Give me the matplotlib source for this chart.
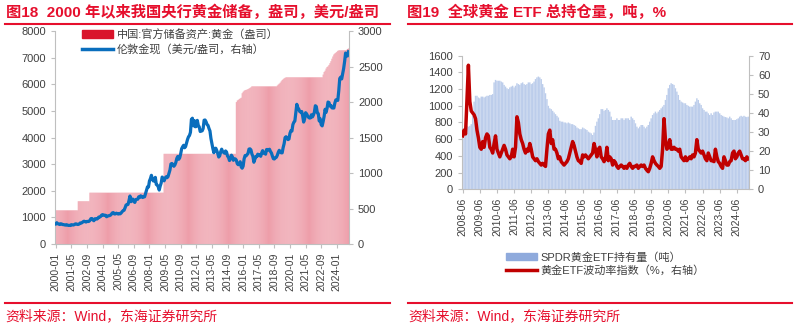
import matplotlib
matplotlib.use("Agg")
import matplotlib.pyplot as plt
import matplotlib.patches as mpatches
import matplotlib.lines as mlines
import pandas as pd

plt.rcParams['font.family'] = ['Liberation Sans', 'Noto Sans CJK SC']

RED = '#E60F2D'
GREY = '#BFBFBF'
TXT = '#404040'

# ---- figure 18 data: China official gold reserves (10k oz) and London gold (USD/oz), monthly
gold_months = pd.date_range('2000-01', '2025-01', freq='MS')
gold_price = [
    284, 300, 286, 280, 275, 285, 282, 274, 273, 270, 266, 272,
    266, 262, 263, 261, 272, 270, 268, 273, 283, 283, 276, 276,
    282, 296, 294, 302, 314, 321, 314, 310, 319, 317, 319, 333,
    357, 359, 340, 328, 355, 356, 351, 360, 379, 379, 389, 407,
    414, 405, 406, 404, 384, 392, 398, 400, 406, 420, 439, 442,
    424, 423, 434, 429, 422, 431, 425, 438, 456, 470, 476, 510,
    549, 555, 557, 610, 676, 596, 633, 632, 598, 586, 627, 629,
    631, 665, 655, 679, 667, 655, 665, 665, 712, 754, 806, 803,
    889, 922, 968, 909, 888, 889, 939, 839, 829, 806, 760, 816,
    858, 943, 924, 890, 928, 946, 934, 949, 996, 1043, 1127, 1135,
    1118, 1095, 1113, 1148, 1205, 1233, 1193, 1215, 1271, 1343, 1370, 1391,
    1356, 1372, 1424, 1473, 1510, 1529, 1573, 1756, 1772, 1665, 1739, 1652,
    1656, 1742, 1673, 1650, 1585, 1596, 1594, 1626, 1744, 1747, 1722, 1684,
    1671, 1627, 1593, 1487, 1414, 1343, 1286, 1347, 1349, 1316, 1275, 1225,
    1244, 1300, 1336, 1299, 1288, 1279, 1311, 1296, 1239, 1222, 1176, 1201,
    1251, 1227, 1179, 1198, 1199, 1182, 1131, 1117, 1125, 1159, 1086, 1068,
    1097, 1200, 1246, 1242, 1260, 1276, 1337, 1341, 1326, 1267, 1236, 1152,
    1192, 1234, 1231, 1266, 1246, 1260, 1236, 1283, 1315, 1280, 1283, 1265,
    1331, 1331, 1325, 1335, 1303, 1282, 1238, 1202, 1198, 1215, 1221, 1250,
    1291, 1320, 1301, 1285, 1284, 1359, 1413, 1500, 1511, 1495, 1471, 1480,
    1560, 1597, 1591, 1683, 1716, 1732, 1846, 1968, 1922, 1901, 1866, 1858,
    1867, 1808, 1718, 1760, 1850, 1834, 1807, 1785, 1775, 1777, 1821, 1790,
    1817, 1856, 1948, 1937, 1849, 1837, 1733, 1764, 1681, 1664, 1726, 1798,
    1898, 1855, 1912, 2000, 1992, 1943, 1951, 1918, 1916, 1916, 1986, 2030,
    2034, 2023, 2158, 2331, 2351, 2326, 2398, 2472, 2571, 2690, 2651, 2649,
    2709,
]
# reserves only change on these months (stays flat in between)
reserve_change_dates = [
    '2000-01', '2001-12', '2002-12', '2009-04',
    '2015-06', '2015-07', '2015-08', '2015-09', '2015-10', '2015-11', '2015-12',
    '2016-01', '2016-02', '2016-03', '2016-04', '2016-05', '2016-06', '2016-07',
    '2016-08', '2016-09', '2016-10',
    '2018-12', '2019-01', '2019-02', '2019-03', '2019-04', '2019-05', '2019-06',
    '2019-07', '2019-08', '2019-09',
    '2022-11', '2022-12', '2023-01', '2023-02', '2023-03', '2023-04', '2023-05',
    '2023-06', '2023-07', '2023-08', '2023-09', '2023-10', '2023-11', '2023-12',
    '2024-01', '2024-02', '2024-03', '2024-04', '2024-11', '2024-12', '2025-01',
]
reserve_change_values = [
    1267, 1608, 1929, 3389,
    5332, 5393, 5416, 5449, 5473, 5496, 5666,
    5719, 5758, 5782, 5790, 5802, 5822, 5841,
    5865, 5888, 5924,
    5956, 5994, 6026, 6062, 6113, 6161, 6194,
    6226, 6245, 6264,
    6367, 6464, 6512, 6592, 6650, 6676, 6727,
    6795, 6869, 6962, 7046, 7120, 7158, 7187,
    7219, 7258, 7274, 7280, 7296, 7329, 7345,
]

# ---- figure 19 data: SPDR holdings (t) and gold ETF volatility index (%), monthly
etf_months = pd.date_range('2008-06', '2025-02', freq='MS')
spdr_tonnes = [
    600, 620, 680, 760, 750, 760, 780, 880, 1050, 1120,
    1120, 1100, 1090, 1110, 1110, 1100, 1110, 1120, 1120, 1130,
    1130, 1140, 1280, 1310, 1300, 1300, 1300, 1290, 1280, 1250,
    1230, 1210, 1200, 1220, 1230, 1240, 1220, 1240, 1270, 1260,
    1250, 1270, 1280, 1260, 1250, 1260, 1280, 1280, 1260, 1270,
    1290, 1320, 1340, 1350, 1340, 1320, 1260, 1220, 1150, 1080,
    1000, 970, 960, 940, 920, 900, 880, 860, 820, 810,
    810, 800, 800, 790, 800, 790, 780, 780, 770, 760,
    740, 730, 720, 720, 740, 730, 720, 710, 690, 680,
    670, 650, 680, 760, 810, 850, 900, 960, 960, 940,
    950, 970, 950, 930, 870, 830, 830, 830, 850, 830,
    830, 850, 850, 830, 850, 850, 850, 830, 870, 850,
    830, 790, 750, 730, 750, 770, 770, 750, 730, 750,
    770, 810, 850, 890, 910, 930, 910, 930, 950, 970,
    990, 1010, 1070, 1130, 1210, 1250, 1270, 1260, 1250, 1210,
    1170, 1130, 1070, 1050, 1040, 1030, 1030, 1010, 1000, 990,
    990, 990, 1010, 1050, 1090, 1070, 1030, 1010, 970, 950,
    930, 930, 910, 890, 910, 890, 920, 930, 930, 930,
    910, 890, 880, 870, 865, 860, 850, 870, 850, 830,
    830, 830, 840, 850, 870, 880, 870, 880, 870, 865, 870,
]
gvz_index = [
    28, 31, 29, 47, 65, 46, 41, 40, 39, 37,
    31, 27, 22, 21, 25, 22, 27, 29, 28, 22,
    21, 19, 24, 28, 21, 19, 17, 19, 21, 23,
    21, 18, 17, 16, 17, 21, 17, 22, 38, 35,
    29, 26, 24, 21, 19, 21, 20, 24, 21, 17,
    16, 15, 16, 14.5, 13.6, 12.7, 13.6, 12.7, 12, 21,
    29, 31, 24, 26, 21, 21, 19, 16, 17, 14.5,
    13.6, 12.7, 13.6, 14.5, 16, 19, 22, 25, 23, 20,
    17, 15, 14.5, 13.6, 18, 17, 18, 17, 16, 17,
    18, 19, 24, 21, 17, 21, 22, 17, 16, 14.5,
    16, 22, 15, 17, 16, 12.7, 15, 14, 12, 11,
    12, 12.7, 12, 11, 12, 11, 12.7, 13.6, 12, 11,
    12, 12, 12.7, 11, 12, 12.7, 12, 12.7, 11, 10,
    9.2, 11, 13.6, 17, 15, 13.6, 12.7, 12, 11, 12,
    21, 37, 26, 21, 22, 26, 21, 21, 22, 21,
    21, 20, 21, 17, 16, 15, 17, 15, 16, 17,
    16, 18, 17, 19, 26, 21, 20, 19, 20, 18,
    16, 15, 19, 17, 15, 15, 14.5, 21, 17, 14.5,
    13.6, 12, 11, 17, 15, 12.7, 12.7, 14.5, 15, 19,
    20, 16, 17, 19, 20, 18, 16, 16, 15, 17, 16,
]

# build the monthly reserve series from the change points
reserves = pd.Series(reserve_change_values, index=pd.to_datetime(reserve_change_dates))
reserves = reserves.reindex(gold_months).ffill()


def style_axes(ax, ax2):
    for a in (ax, ax2):
        for s in a.spines.values():
            s.set_color(GREY)
        a.spines['top'].set_visible(False)
        a.tick_params(colors=GREY, labelcolor=TXT, length=3, labelsize=8)
    ax.spines['right'].set_visible(False)
    ax2.spines['left'].set_visible(False)
    ax2.spines['bottom'].set_visible(False)
    ax.tick_params(axis='x', labelsize=7.5, labelrotation=90, pad=3)


fig = plt.figure(figsize=(7.95, 3.27), dpi=100)

# ================= left chart =================
ax1 = fig.add_axes([0.0692, 0.2538, 0.3698, 0.6512])
x1 = range(len(gold_months))
ax1.bar(x1, reserves.values, width=1.0, color='#EE9DA9', linewidth=0, snap=False)
ax1.set_ylim(0, 8000)
ax1.set_yticks(range(0, 8001, 1000))
ax1.set_xlim(-0.8, len(gold_months) - 0.5)
ticks1 = list(range(0, len(gold_months), 16))
ax1.set_xticks(ticks1)
ax1.set_xticklabels([gold_months[i].strftime('%Y-%m') for i in ticks1])

ax1b = ax1.twinx()
ax1b.plot(x1, gold_price, color='#0A6EBD', lw=2.3)
ax1b.set_ylim(0, 3000)
ax1b.set_yticks(range(0, 3001, 500))
style_axes(ax1, ax1b)

h1 = [mpatches.Patch(color='#D9142B', label='中国:官方储备资产:黄金（盎司）'),
      mlines.Line2D([], [], color='#0A6EBD', lw=2.5, label='伦敦金现（美元/盎司，右轴）')]
fig.legend(handles=h1, loc='upper left', bbox_to_anchor=(0.098, 0.925), frameon=False,
           fontsize=8, handlelength=2.8, handleheight=0.6, labelspacing=0.35,
           handletextpad=0.3, labelcolor=TXT, borderaxespad=0)

# ================= right chart =================
ax2 = fig.add_axes([0.5811, 0.4211, 0.3610, 0.4086])
x2 = range(len(etf_months))
ax2.bar(x2, spdr_tonnes, width=1.0, color='#BCCDEB', linewidth=0, snap=False)
ax2.set_ylim(0, 1600)
ax2.set_yticks(range(0, 1601, 200))
ax2.set_xlim(-0.5, len(etf_months) - 0.5)
ticks2 = list(range(0, len(etf_months), 12))
ax2.set_xticks(ticks2)
ax2.set_xticklabels([etf_months[i].strftime('%Y-%m') for i in ticks2])

ax2b = ax2.twinx()
ax2b.plot(x2, gvz_index, color='#C00000', lw=2.5)
ax2b.set_ylim(0, 70)
ax2b.set_yticks(range(0, 71, 10))
style_axes(ax2, ax2b)

h2 = [mpatches.Patch(color='#8FAADC', label='SPDR黄金ETF持有量（吨）'),
      mlines.Line2D([], [], color='#C00000', lw=2.5, label='黄金ETF波动率指数（%，右轴）')]
fig.legend(handles=h2, loc='upper left', bbox_to_anchor=(0.631, 0.243), frameon=False,
           fontsize=8, handlelength=2.8, handleheight=0.6, labelspacing=0.25,
           handletextpad=0.3, labelcolor=TXT, borderaxespad=0)

# ================= titles, rules, sources =================
fig.text(0.007, 0.963, '图18  2000 年以来我国央行黄金储备，盎司，美元/盎司', color=RED,
         fontsize=11, fontweight='bold', va='center', ha='left')
fig.text(0.512, 0.963, '图19  全球黄金 ETF 总持仓量，吨，%', color=RED,
         fontsize=11, fontweight='bold', va='center', ha='left')
for x0, x1_ in [(0.006, 0.491), (0.513, 0.996)]:
    fig.add_artist(mlines.Line2D([x0, x1_], [0.927, 0.927], color=RED, lw=1.5))
    fig.add_artist(mlines.Line2D([x0, x1_], [0.0734, 0.0734], color=RED, lw=1.5))
fig.text(0.007, 0.034, '资料来源：Wind，东海证券研究所', color=RED, fontsize=10, va='center')
fig.text(0.514, 0.034, '资料来源：Wind，东海证券研究所', color=RED, fontsize=10, va='center')

fig.savefig('out.png', dpi=100)
